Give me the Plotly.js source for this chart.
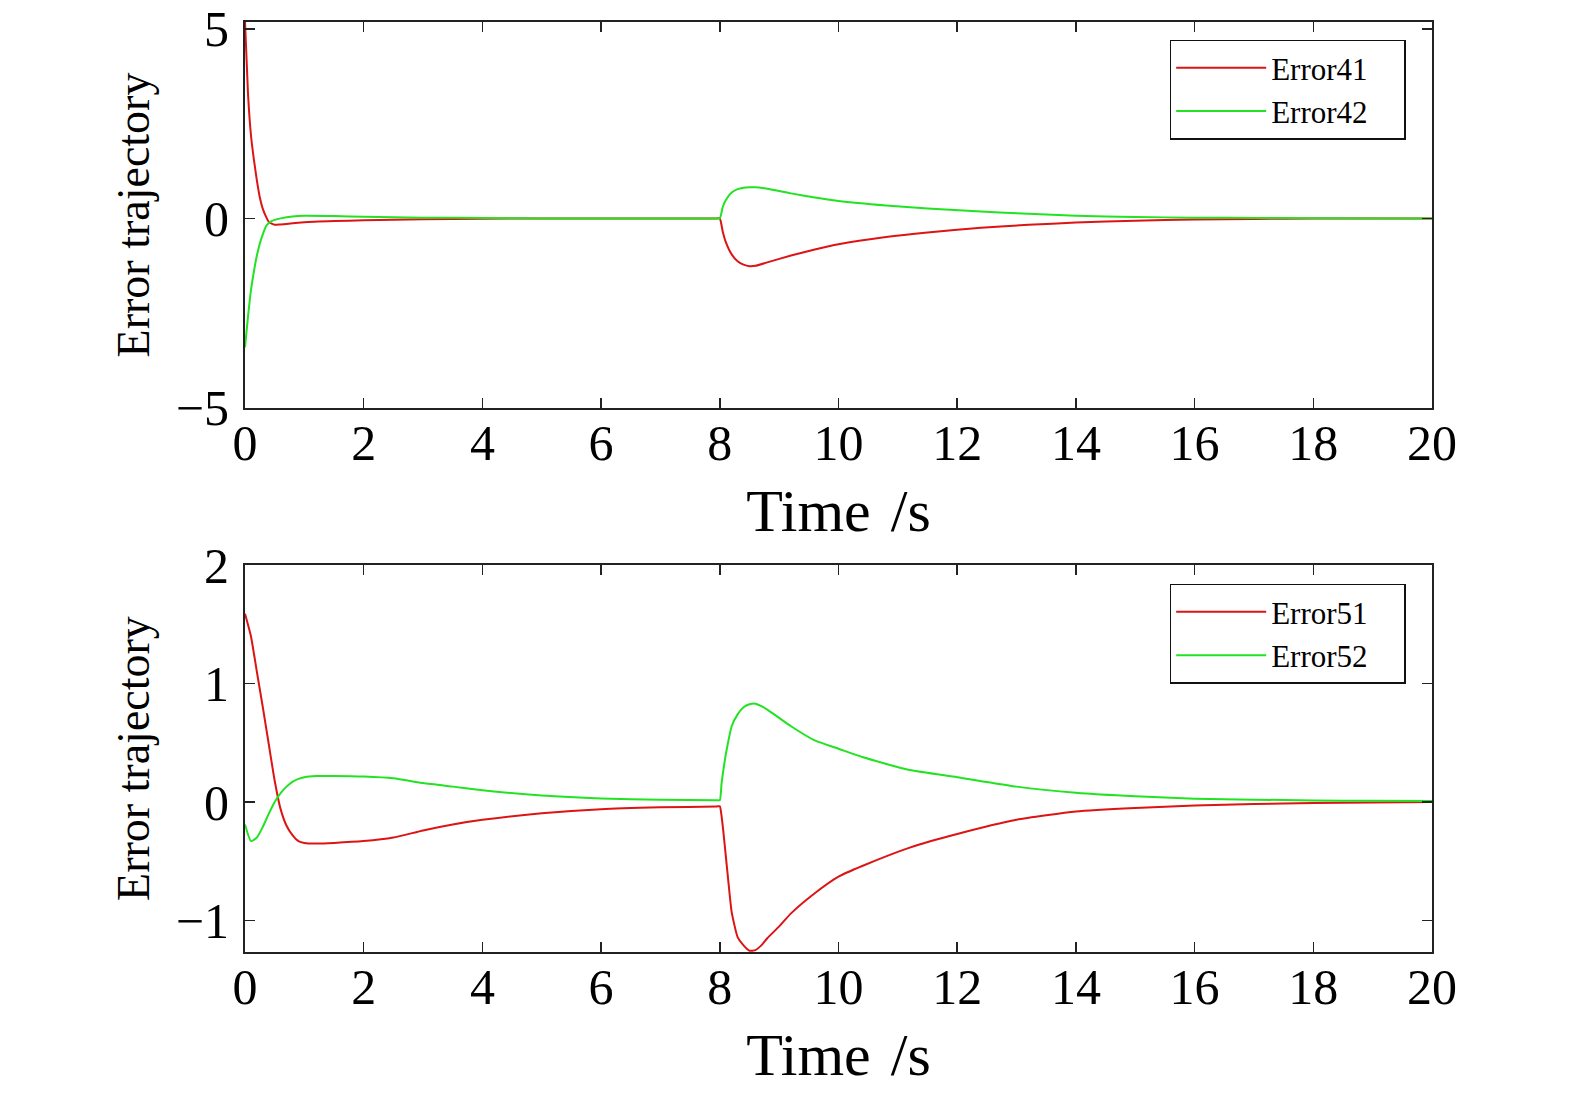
<!DOCTYPE html>
<html>
<head>
<meta charset="utf-8">
<script src="https://cdn.plot.ly/plotly-3.0.1.min.js"></script>
<style>
  html, body { margin: 0; padding: 0; background: #fff; }
  #chart { width: 1575px; height: 1096px; }
</style>
</head>
<body>
<div id="chart"></div>
<script>
// top panel: Error41 / Error42
const timeTop = [0, 0.05, 0.1, 0.15, 0.2, 0.25, 0.3, 0.35, 0.4, 0.45, 0.5, 0.6, 0.8, 1.0, 1.5, 2, 3, 4, 5, 6, 7, 7.95, 8,
  8.05, 8.1, 8.2, 8.3, 8.4, 8.5, 8.6, 8.8, 9.2, 9.6, 10, 10.8, 11.5, 12.4, 13.2, 14, 15, 16, 17, 18, 20];
const error41 = [5.2, 3.3, 2.2, 1.55, 1.0, 0.55, 0.25, 0.06, -0.09, -0.14, -0.17, -0.16, -0.13, -0.1, -0.07, -0.05, -0.02, -0.01, 0, 0, 0, 0, 0,
  -0.35, -0.62, -0.95, -1.13, -1.22, -1.26, -1.25, -1.16, -0.98, -0.82, -0.68, -0.49, -0.37, -0.25, -0.17, -0.11, -0.06, -0.03, -0.015, -0.006, 0];
const error42 = [-3.4, -2.6, -1.9, -1.4, -0.98, -0.66, -0.42, -0.22, -0.12, -0.07, -0.04, 0.0, 0.05, 0.07, 0.06, 0.04, 0.02, 0.01, 0, 0, 0, 0, 0,
  0.3, 0.48, 0.68, 0.77, 0.81, 0.82, 0.82, 0.78, 0.66, 0.55, 0.46, 0.34, 0.26, 0.18, 0.12, 0.07, 0.035, 0.02, 0.01, 0.005, 0];

// bottom panel: Error51 / Error52
const timeBottom = [0, 0.1, 0.2, 0.3, 0.4, 0.5, 0.6, 0.7, 0.8, 0.9, 1.0, 1.2, 1.5, 2, 2.5, 3, 3.5, 4, 5, 6, 7, 7.95, 8.0,
  8.03, 8.06, 8.1, 8.15, 8.2, 8.3, 8.4, 8.5, 8.6, 8.7, 8.8, 9, 9.2, 9.6, 10, 10.4, 11.2, 12, 13, 14, 15, 16, 17, 18, 19, 20];
const error51 = [1.59, 1.4, 1.1, 0.8, 0.49, 0.18, -0.06, -0.2, -0.28, -0.33, -0.345, -0.35, -0.345, -0.33, -0.3, -0.24, -0.19, -0.15, -0.095, -0.06, -0.045, -0.037, -0.036,
  -0.12, -0.25, -0.45, -0.7, -0.93, -1.14, -1.21, -1.255, -1.25, -1.21, -1.15, -1.05, -0.94, -0.77, -0.63, -0.54, -0.385, -0.27, -0.15, -0.08, -0.05, -0.03, -0.017, -0.008, -0.003, 0];
const error52 = [-0.19, -0.33, -0.3, -0.21, -0.1, 0.0, 0.075, 0.13, 0.17, 0.195, 0.21, 0.22, 0.22, 0.215, 0.2, 0.16, 0.13, 0.1, 0.055, 0.03, 0.02, 0.016, 0.015,
  0.16, 0.27, 0.4, 0.53, 0.64, 0.74, 0.8, 0.825, 0.83, 0.81, 0.78, 0.71, 0.64, 0.52, 0.45, 0.38, 0.27, 0.21, 0.13, 0.078, 0.048, 0.028, 0.02, 0.014, 0.01, 0.008];

const xTicks = [0, 2, 4, 6, 8, 10, 12, 14, 16, 18, 20];
const yTicksTop = [-5, 0, 5];
const yTicksBottom = [-1, 0, 1, 2];

const FONT = "'Liberation Serif', 'DejaVu Serif', serif";
const RED = "#dc1414";
const GREEN = "#22e322";
// trailing em space widens the legend box like the original
const PAD = "\u2003";

function line(x, y, name, color, xa, ya, legend) {
  return {
    x: x, y: y, name: name + PAD, type: "scatter", mode: "lines",
    line: { color: color, width: 2, shape: "spline", smoothing: 0.5 },
    xaxis: xa, yaxis: ya, legend: legend,
  };
}

const traces = [
  line(timeTop, error41, "Error41", RED, "x", "y", "legend"),
  line(timeTop, error42, "Error42", GREEN, "x", "y", "legend"),
  line(timeBottom, error51, "Error51", RED, "x2", "y2", "legend2"),
  line(timeBottom, error52, "Error52", GREEN, "x2", "y2", "legend2"),
];

function xAxis(anchor) {
  return {
    anchor: anchor, domain: [0, 1], range: [0, 20],
    tickvals: xTicks, ticks: "inside", ticklen: 10, tickwidth: 1.5, tickcolor: "#222",
    showline: true, linewidth: 2, linecolor: "#222", mirror: "ticks",
    showgrid: false, zeroline: false, ticklabelstandoff: -10,
    tickfont: { family: FONT, size: 50, color: "#000" },
    title: { text: "Time \u200a/s", font: { family: FONT, size: 60, color: "#000" }, standoff: 19 },
  };
}

function yAxis(anchor, domain, range, ticks) {
  return {
    anchor: anchor, domain: domain, range: range,
    tickvals: ticks, ticks: "inside", ticklen: 10, tickwidth: 1.5, tickcolor: "#222",
    showline: true, linewidth: 2, linecolor: "#222", mirror: "ticks",
    showgrid: false, zeroline: false, ticklabelstandoff: 4,
    tickfont: { family: FONT, size: 50, color: "#000" },
    title: { text: "Error trajectory", font: { family: FONT, size: 46, color: "#000" }, standoff: 12 },
  };
}

function legendBox(y) {
  return {
    x: 0.779, y: y, xanchor: "left", yanchor: "top",
    bgcolor: "#fff", bordercolor: "#111", borderwidth: 1.5,
    font: { family: FONT, size: 31, color: "#000" },
    itemwidth: 90, tracegroupgap: 0,
  };
}

const layout = {
  width: 1575, height: 1096,
  margin: { l: 245, r: 143, t: 22, b: 144 },
  paper_bgcolor: "#fff", plot_bgcolor: "#fff",
  showlegend: true,
  xaxis: xAxis("y"),
  yaxis: yAxis("x", [0.585, 1], [-5, 5.18], yTicksTop),
  xaxis2: xAxis("y2"),
  yaxis2: yAxis("x2", [0, 0.416], [-1.266, 2], yTicksBottom),
  legend: legendBox(0.981),
  legend2: legendBox(0.396),
};

Plotly.newPlot("chart", traces, layout, { displayModeBar: false, staticPlot: true });
</script>
</body>
</html>
